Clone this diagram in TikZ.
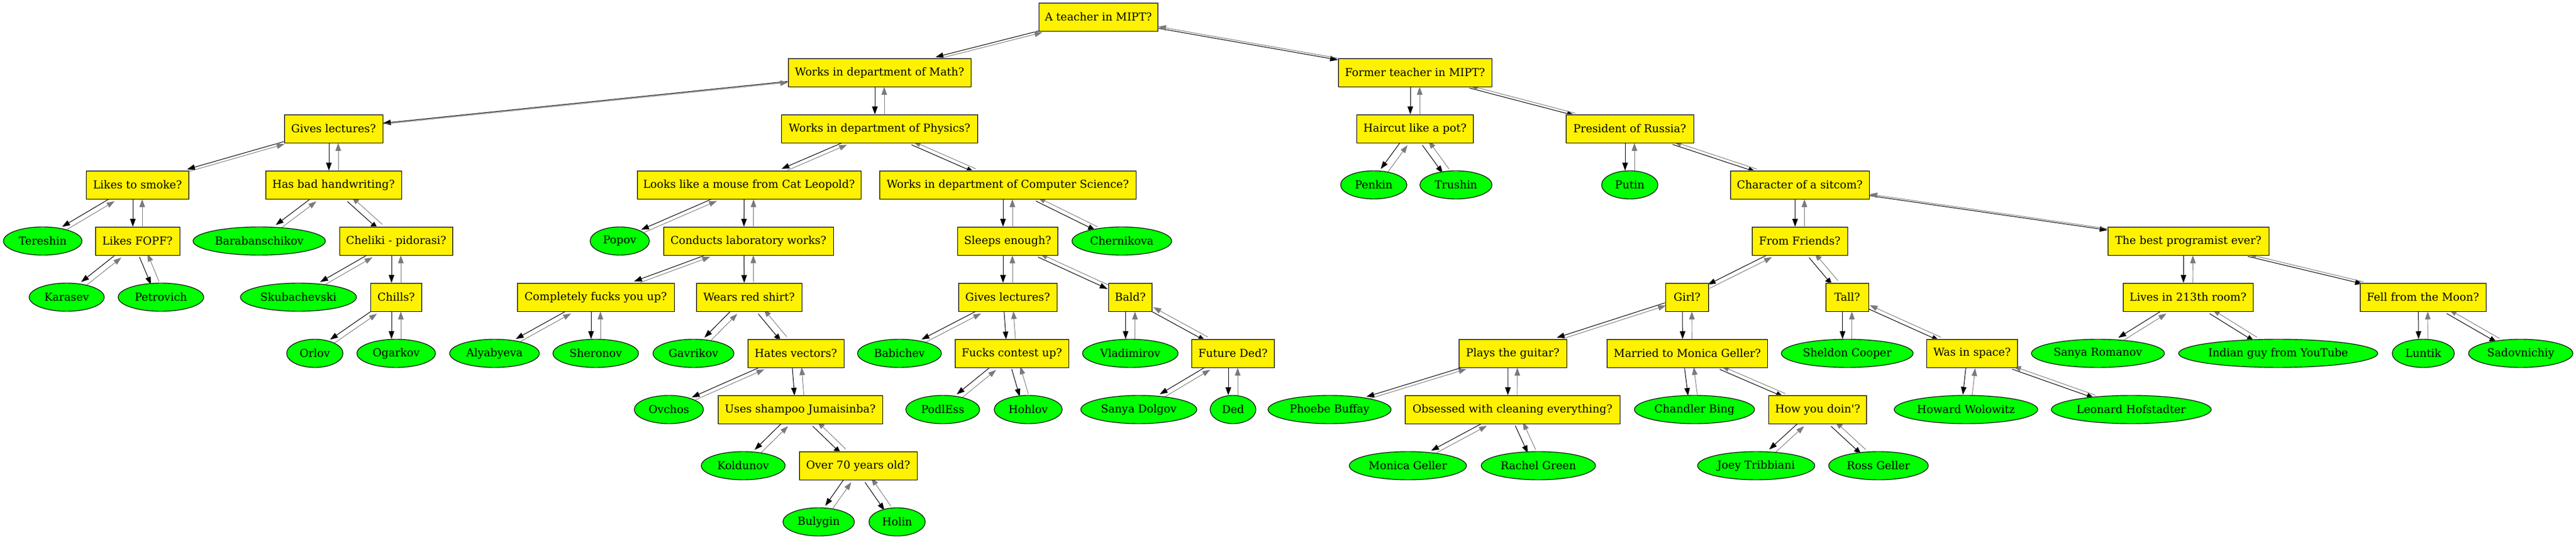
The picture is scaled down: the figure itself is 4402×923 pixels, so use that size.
\documentclass[tikz,border=0pt]{standalone}
\usepackage{fontspec}
\setmainfont{DejaVu Serif}[Ligatures=TeXOff]
\usetikzlibrary{arrows.meta,shapes.geometric,backgrounds}
\newdimen\bax \newdimen\bay \newdimen\bbx \newdimen\bby
\newcommand\bi[2]{%
  \pgfextractx{\bax}{\pgfpointanchor{#1}{center}}%
  \pgfextracty{\bay}{\pgfpointanchor{#1}{center}}%
  \pgfextractx{\bbx}{\pgfpointanchor{#2}{center}}%
  \pgfextracty{\bby}{\pgfpointanchor{#2}{center}}%
  \pgfmathsetmacro\bth{atan2(\bby-\bay,\bbx-\bax)}%
  \pgfmathsetmacro\bsx{-6*sin(\bth)*sin(\bth)}%
  \pgfmathsetmacro\bsy{6*sin(\bth)*cos(\bth)}%
  \pgfmathsetmacro\bnx{-\bsx}%
  \pgfmathsetmacro\bny{-\bsy}%
  \draw[blk,transform canvas={shift={(\bsx pt,\bsy pt)}}] (#1) -- (#2);
  \draw[gry,transform canvas={shift={(\bnx pt,\bny pt)}}] (#2) -- (#1);
}
\colorlet{edgegray}{black!52}
\tikzset{
  box/.style={rectangle, draw=black, line width=0.7pt, fill=yellow, minimum height=36pt, inner sep=0pt,
    preaction={draw=black!35, line width=1.5pt}, font=\fontsize{14}{16}\selectfont},
  leaf/.style={ellipse, draw=black, line width=0.7pt, fill=green, minimum height=36pt, inner sep=0pt,
    preaction={draw=black!35, line width=1.5pt}, font=\fontsize{14}{16}\selectfont},
  wd/.style={minimum width=#1*0.75pt},
  blk/.style={draw=black, line width=0.75pt, -{Triangle[length=10pt,width=7pt]}},
  gry/.style={draw=edgegray, line width=0.7pt, -{Triangle[length=10pt,width=7pt]}},
}
\begin{document}
\begin{tikzpicture}[x=0.75pt,y=-0.75pt]
\useasboundingbox (0,0) rectangle (4402,923);
% level 0
\node[box,wd=203] (t0) at (1877,29) {A teacher in MIPT?};
% level 1
\node[box,wd=312] (math) at (1503,124) {Works in department of Math?};
\node[box,wd=262] (former) at (2418,124) {Former teacher in MIPT?};
% level 2
\node[box,wd=168] (lect1) at (570,220) {Gives lectures?};
\node[box,wd=335] (phys) at (1503,220) {Works in department of Physics?};
\node[box,wd=199] (haircut) at (2418,220) {Haircut like a pot?};
\node[box,wd=218] (pres) at (2785,220) {President of Russia?};
% level 3
\node[box,wd=175] (smoke) at (235,316) {Likes to smoke?};
\node[box,wd=232] (hand) at (570,316) {Has bad handwriting?};
\node[box,wd=382] (mouse) at (1280,316) {Looks like a mouse from Cat Leopold?};
\node[box,wd=438] (cs) at (1722,316) {Works in department of Computer Science?};
\node[leaf,wd=113] (penkin) at (2347.5,316) {Penkin};
\node[leaf,wd=123] (trushin) at (2488,316) {Trushin};
\node[leaf,wd=96] (putin) at (2785,316) {Putin};
\node[box,wd=237] (sitcom) at (3075.5,316) {Character of a sitcom?};
% level 4
\node[leaf,wd=134] (tereshin) at (73,412) {Tereshin};
\node[box,wd=144] (fopf) at (235,412) {Likes FOPF?};
\node[leaf,wd=226] (barab) at (443,412) {Barabanschikov};
\node[box,wd=193] (cheliki) at (677,412) {Cheliki - pidorasi?};
\node[leaf,wd=101] (popov) at (1059,412) {Popov};
\node[box,wd=290] (lab) at (1279,412) {Conducts laboratory works?};
\node[box,wd=171] (sleeps) at (1722,412) {Sleeps enough?};
\node[leaf,wd=170] (chern) at (1917,412) {Chernikova};
\node[box,wd=163] (friends) at (3075.5,412) {From Friends?};
\node[box,wd=275] (best) at (3739.5,412) {The best programist ever?};
% level 5
\node[leaf,wd=128] (karasev) at (114,508) {Karasev};
\node[leaf,wd=146] (petrovich) at (275,508) {Petrovich};
\node[leaf,wd=198] (skub) at (510,508) {Skubachevski};
\node[box,wd=87] (chills) at (677,508) {Chills?};
\node[box,wd=268] (cfu) at (1018,508) {Completely fucks you up?};
\node[box,wd=180] (red) at (1280,508) {Wears red shirt?};
\node[box,wd=168] (lect2) at (1722,508) {Gives lectures?};
\node[box,wd=74] (bald) at (1931.5,508) {Bald?};
\node[box,wd=73] (girl) at (2883,508) {Girl?};
\node[box,wd=73] (tall) at (3156.6,508) {Tall?};
\node[box,wd=222] (room) at (3739,508) {Lives in 213th room?};
\node[box,wd=215] (moon) at (4140.5,508) {Fell from the Moon?};
% level 6
\node[leaf,wd=96] (orlov) at (538,604) {Orlov};
\node[leaf,wd=134] (ogarkov) at (677,604) {Ogarkov};
\node[leaf,wd=153] (alya) at (845,604) {Alyabyeva};
\node[leaf,wd=146] (sheronov) at (1018,604) {Sheronov};
\node[leaf,wd=138] (gavrikov) at (1185,604) {Gavrikov};
\node[box,wd=164] (vectors) at (1360,604) {Hates vectors?};
\node[leaf,wd=143] (babichev) at (1537,604) {Babichev};
\node[box,wd=194] (contest) at (1729,604) {Fucks contest up?};
\node[leaf,wd=163] (vlad) at (1931.5,604) {Vladimirov};
\node[box,wd=141] (fded) at (2107,604) {Future Ded?};
\node[box,wd=184] (guitar) at (2585,604) {Plays the guitar?};
\node[box,wd=274] (married) at (2883.4,604) {Married to Monica Geller?};
\node[leaf,wd=225] (sheldon) at (3156.6,604) {Sheldon Cooper};
\node[box,wd=155] (space) at (3370,604) {Was in space?};
\node[leaf,wd=227] (sromanov) at (3585,604) {Sanya Romanov};
\node[leaf,wd=340] (indian) at (3893,604) {Indian guy from YouTube};
\node[leaf,wd=106] (luntik) at (4141,604) {Luntik};
\node[leaf,wd=178] (sadov) at (4307.5,604) {Sadovnichiy};
% level 7
\node[leaf,wd=118] (ovchos) at (1143,700) {Ovchos};
\node[box,wd=281] (shampoo) at (1367.5,700) {Uses shampoo Jumaisinba?};
\node[leaf,wd=126] (podless) at (1611,700) {PodlEss};
\node[leaf,wd=116] (hohlov) at (1757,700) {Hohlov};
\node[leaf,wd=198] (sdolgov) at (1946,700) {Sanya Dolgov};
\node[leaf,wd=78] (ded) at (2107,700) {Ded};
\node[leaf,wd=210] (phoebe) at (2272,700) {Phoebe Buffay};
\node[box,wd=367] (obsessed) at (2584.6,700) {Obsessed with cleaning everything?};
\node[leaf,wd=205] (chandler) at (2895.6,700) {Chandler Bing};
\node[box,wd=167] (doin) at (3106,700) {How you doin'?};
\node[leaf,wd=245] (howard) at (3359.5,700) {Howard Wolowitz};
\node[leaf,wd=273] (leonard) at (3642,700) {Leonard Hofstadter};
% level 8
\node[leaf,wd=143] (koldunov) at (1270,796) {Koldunov};
\node[box,wd=201] (over70) at (1466.5,796) {Over 70 years old?};
\node[leaf,wd=200] (mgeller) at (2405.8,796) {Monica Geller};
\node[leaf,wd=195] (rachel) at (2628.8,796) {Rachel Green};
\node[leaf,wd=200] (joey) at (3001,796) {Joey Tribbiani};
\node[leaf,wd=170] (ross) at (3210,796) {Ross Geller};
% level 9
\node[leaf,wd=122] (bulygin) at (1399,892) {Bulygin};
\node[leaf,wd=96] (holin) at (1533,892) {Holin};
\begin{pgfonlayer}{background}
\bi{t0}{math}\bi{t0}{former}
\bi{math}{lect1}\bi{math}{phys}
\bi{lect1}{smoke}\bi{lect1}{hand}
\bi{smoke}{tereshin}\bi{smoke}{fopf}
\bi{fopf}{karasev}\bi{fopf}{petrovich}
\bi{hand}{barab}\bi{hand}{cheliki}
\bi{cheliki}{skub}\bi{cheliki}{chills}
\bi{chills}{orlov}\bi{chills}{ogarkov}
\bi{phys}{mouse}\bi{phys}{cs}
\bi{mouse}{popov}\bi{mouse}{lab}
\bi{lab}{cfu}\bi{lab}{red}
\bi{cfu}{alya}\bi{cfu}{sheronov}
\bi{red}{gavrikov}\bi{red}{vectors}
\bi{vectors}{ovchos}\bi{vectors}{shampoo}
\bi{shampoo}{koldunov}\bi{shampoo}{over70}
\bi{over70}{bulygin}\bi{over70}{holin}
\bi{cs}{sleeps}\bi{cs}{chern}
\bi{sleeps}{lect2}\bi{sleeps}{bald}
\bi{lect2}{babichev}\bi{lect2}{contest}
\bi{contest}{podless}\bi{contest}{hohlov}
\bi{bald}{vlad}\bi{bald}{fded}
\bi{fded}{sdolgov}\bi{fded}{ded}
\bi{former}{haircut}\bi{former}{pres}
\bi{haircut}{penkin}\bi{haircut}{trushin}
\bi{pres}{putin}\bi{pres}{sitcom}
\bi{sitcom}{friends}\bi{sitcom}{best}
\bi{friends}{girl}\bi{friends}{tall}
\bi{girl}{guitar}\bi{girl}{married}
\bi{guitar}{phoebe}\bi{guitar}{obsessed}
\bi{obsessed}{mgeller}\bi{obsessed}{rachel}
\bi{married}{chandler}\bi{married}{doin}
\bi{doin}{joey}\bi{doin}{ross}
\bi{tall}{sheldon}\bi{tall}{space}
\bi{space}{howard}\bi{space}{leonard}
\bi{best}{room}\bi{best}{moon}
\bi{room}{sromanov}\bi{room}{indian}
\bi{moon}{luntik}\bi{moon}{sadov}
\end{pgfonlayer}
\end{tikzpicture}
\end{document}
